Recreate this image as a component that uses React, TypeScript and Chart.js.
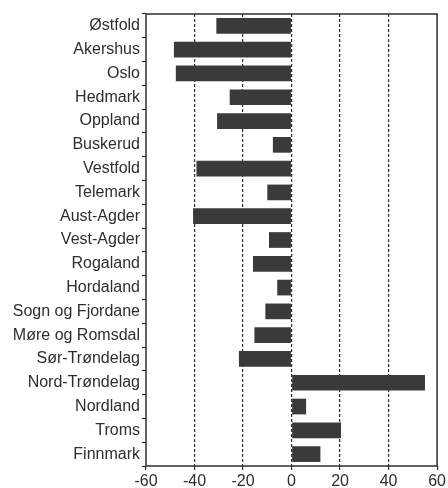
import React, { useEffect, useRef } from "react";
import { Chart, registerables } from "chart.js";

Chart.register(...registerables);

const counties = [
  "Østfold", "Akershus", "Oslo", "Hedmark", "Oppland", "Buskerud", "Vestfold",
  "Telemark", "Aust-Agder", "Vest-Agder", "Rogaland", "Hordaland",
  "Sogn og Fjordane", "Møre og Romsdal", "Sør-Trøndelag", "Nord-Trøndelag",
  "Nordland", "Troms", "Finnmark",
];
const values = [
  -31, -48.5, -47.7, -25.5, -30.7, -7.7, -39.2, -10, -40.6, -9.3, -15.9, -5.9,
  -10.8, -15.3, -21.7, 55, 6, 20.4, 11.9,
];
const xTicks = [-60, -40, -20, 0, 20, 40, 60];

const INK = "#2e2e2e";
const FONT = "'Liberation Sans', Arial, sans-serif";

const framePlugin = {
  id: "frame",
  afterDraw(chart: any) {
    const { ctx, chartArea } = chart;
    const { left, right, top, bottom } = chartArea;
    ctx.save();
    ctx.strokeStyle = INK;
    ctx.lineWidth = 1.5;
    ctx.setLineDash([]);
    ctx.beginPath();
    ctx.moveTo(left, top);
    ctx.lineTo(right, top);
    ctx.lineTo(right, bottom);
    ctx.lineTo(left, bottom);
    ctx.closePath();
    ctx.stroke();
    ctx.restore();
  },
};

export default function App() {
  const ref = useRef<HTMLCanvasElement | null>(null);
  useEffect(() => {
    if (!ref.current) return;
    const chart = new Chart(ref.current, {
      type: "bar",
      data: {
        labels: counties,
        datasets: [
          {
            data: values,
            backgroundColor: "#3a3a3a",
            borderWidth: 0,
            barPercentage: 0.66,
            categoryPercentage: 1,
          },
        ],
      },
      options: {
        indexAxis: "y",
        responsive: false,
        animation: false,
        devicePixelRatio: 1,
        layout: { padding: { top: 14, right: 10, left: 0, bottom: 0 } },
        plugins: { legend: { display: false }, tooltip: { enabled: false } },
        scales: {
          x: {
            type: "linear",
            min: -60,
            max: 60,
            afterBuildTicks: (scale: any) => {
              scale.ticks = xTicks.map((v) => ({ value: v }));
            },
            afterFit: (scale: any) => {
              scale.height = 22;
            },
            ticks: {
              color: INK,
              font: { family: FONT, size: 16 },
              padding: 2,
              maxRotation: 0,
              autoSkip: false,
            },
            grid: {
              color: (ctx: any) =>
                ctx.tick && (ctx.tick.value === -60 || ctx.tick.value === 60)
                  ? "rgba(0,0,0,0)"
                  : INK,
              lineWidth: 1.2,
              tickColor: INK,
              tickLength: 4,
              tickWidth: 1.2,
              tickBorderDash: [],
            },
            border: { display: false, dash: [3, 2] },
          },
          y: {
            type: "category",
            afterFit: (scale: any) => {
              scale.width = 146;
            },
            ticks: {
              color: INK,
              font: { family: FONT, size: 16 },
              padding: 2,
              autoSkip: false,
            },
            grid: {
              drawOnChartArea: false,
              tickColor: INK,
              tickLength: 4,
              tickWidth: 1.2,
            },
            border: { display: false },
          },
        },
      },
      plugins: [framePlugin],
    });
    return () => chart.destroy();
  }, []);
  return (
    <div style={{ position: "absolute", left: 0, top: 0, width: 448, height: 488, background: "#fff" }}>
      <canvas ref={ref} width={448} height={488} />
    </div>
  );
}
